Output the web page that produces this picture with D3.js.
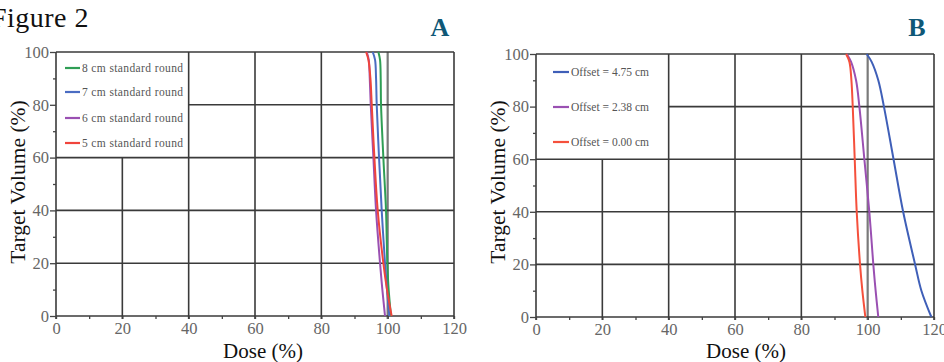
<!DOCTYPE html>
<html>
<head>
<meta charset="utf-8">
<script src="https://d3js.org/d3.v7.min.js"></script>
<style>
  body { margin: 0; background: #fff; }
  svg { display: block; }
</style>
</head>
<body>
<div id="chart"></div>
<script>
// Axis ticks
const doseTicks = [0, 20, 40, 60, 80, 100, 120];
const doseMinor = [10, 30, 50, 70, 90, 110];
const volumeTicks = [0, 20, 40, 60, 80, 100];
const volumeMinor = [10, 30, 50, 70, 90];

const volumeLevels = [100, 97, 90, 80, 60, 40, 20, 10, 0];

// Panel A: standard round applicators
const roundLabels = ['8 cm standard round', '7 cm standard round', '6 cm standard round', '5 cm standard round'];
const roundColors = ['#2f9e55', '#4a6cc2', '#9a50b2', '#f0443c'];
const round8Dose = [97.2, 97.7, 97.9, 98.0, 98.7, 99.5, 99.9, 100.3, 101.0];
const round7Dose = [95.5, 96.2, 96.5, 96.7, 97.4, 98.2, 99.2, 99.8, 100.5];
const round6Dose = [93.7, 94.3, 94.6, 94.9, 95.7, 96.5, 97.7, 98.4, 99.2];
const round5Dose = [93.5, 94.2, 94.8, 95.2, 96.0, 97.0, 98.7, 99.8, 101.2];

// Panel B: offsets
const offsetLabels = ['Offset = 4.75 cm', 'Offset = 2.38 cm', 'Offset = 0.00 cm'];
const offsetColors = ['#3f5fb8', '#9a50b2', '#f5503c'];
const offset475Dose = [99.7, 101.2, 103.2, 104.9, 107.8, 110.7, 114.3, 116.2, 119.2];
const offset238Dose = [93.7, 95.0, 96.5, 97.5, 99.0, 100.5, 101.7, 102.4, 103.2];
const offset000Dose = [93.5, 94.5, 95.1, 95.5, 96.1, 96.7, 97.7, 98.4, 99.3];

const width = 944, height = 362;
const serif = '"Liberation Serif", "DejaVu Serif", serif';
const gridColor = '#3a3a3a';
const tickColor = '#666';

const svg = d3.select('#chart').append('svg')
    .attr('width', width)
    .attr('height', height)
    .style('background', '#fff');

// Figure title (cut at the left edge like the original)
svg.append('text')
    .attr('x', 89).attr('y', 27)
    .attr('text-anchor', 'end')
    .attr('font-family', serif)
    .attr('font-size', 28)
    .attr('letter-spacing', 0.5)
    .attr('fill', '#111')
    .text('Figure 2');

function drawPanel(opts) {
    const x = d3.scaleLinear().domain([0, 120]).range([opts.x0, opts.x1]);
    const y = d3.scaleLinear().domain([0, 100]).range([opts.y0, opts.y1]);
    const g = svg.append('g');

    // Panel letter
    g.append('text')
        .attr('x', opts.letterX).attr('y', 36)
        .attr('text-anchor', 'middle')
        .attr('font-family', serif)
        .attr('font-weight', 'bold')
        .attr('font-size', 26)
        .attr('fill', '#0f5877')
        .text(opts.letter);

    // Vertical grid lines (legend box keeps the top-left cell clear)
    g.append('g').selectAll('line')
        .data(doseTicks)
        .join('line')
        .attr('x1', d => x(d)).attr('x2', d => x(d))
        .attr('y1', y(0) + 3)
        .attr('y2', d => (d > 0 && d < 40) ? y(60) : y(100))
        .attr('stroke', d => d === 100 ? '#7a7a7a' : gridColor)
        .attr('stroke-width', d => d === 100 ? 2.2 : 1.6);

    // Horizontal grid lines
    g.append('g').selectAll('line')
        .data(volumeTicks)
        .join('line')
        .attr('x1', d => (d > 60 && d < 100) ? x(40) : x(0))
        .attr('x2', x(120))
        .attr('y1', d => y(d)).attr('y2', d => y(d))
        .attr('stroke', gridColor)
        .attr('stroke-width', 1.6);

    // Axes
    const xAxis = g.append('g')
        .attr('transform', `translate(0,${y(0)})`)
        .call(d3.axisBottom(x).tickValues(doseTicks).tickSize(3).tickPadding(3));
    const xMinor = g.append('g')
        .attr('transform', `translate(0,${y(0)})`)
        .call(d3.axisBottom(x).tickValues(doseMinor).tickSize(3).tickFormat(''));
    const yAxis = g.append('g')
        .attr('transform', `translate(${x(0)},0)`)
        .call(d3.axisLeft(y).tickValues(volumeTicks).tickSize(6).tickPadding(1));
    const yMinor = g.append('g')
        .attr('transform', `translate(${x(0)},0)`)
        .call(d3.axisLeft(y).tickValues(volumeMinor).tickSize(3).tickFormat(''));

    [xAxis, xMinor, yAxis, yMinor].forEach(a => {
        a.select('.domain').remove();
        a.selectAll('line').attr('stroke', '#444').attr('stroke-width', 1.3);
        a.selectAll('text')
            .attr('font-family', serif)
            .attr('font-size', 16.5)
            .attr('fill', tickColor);
    });

    // Axis titles
    g.append('text')
        .attr('x', opts.doseLabelX).attr('y', 358)
        .attr('text-anchor', 'middle')
        .attr('font-family', serif)
        .attr('font-size', 21)
        .attr('fill', '#111')
        .text('Dose (%)');
    g.append('text')
        .attr('transform', `translate(${opts.volLabelX},182) rotate(-90)`)
        .attr('text-anchor', 'middle')
        .attr('font-family', serif)
        .attr('font-size', 21.5)
        .attr('fill', '#111')
        .text('Target Volume (%)');

    // Curves
    const line = d3.line()
        .x(d => x(d[0]))
        .y(d => y(d[1]))
        .curve(d3.curveCatmullRom.alpha(0.5));

    opts.series.forEach((doses, i) => {
        const pts = doses.map((d, j) => [d, volumeLevels[j]]);
        g.append('path')
            .datum(pts)
            .attr('d', line)
            .attr('fill', 'none')
            .attr('stroke', opts.colors[i])
            .attr('stroke-width', 2);
    });

    // Legend
    const lg = g.append('g');
    opts.labels.forEach((label, i) => {
        const ly = opts.legendY[i];
        lg.append('line')
            .attr('x1', opts.legendX).attr('x2', opts.legendX + opts.legendLine)
            .attr('y1', ly).attr('y2', ly)
            .attr('stroke', opts.colors[i])
            .attr('stroke-width', 2.2);
        lg.append('text')
            .attr('x', opts.legendX + opts.legendLine + 2)
            .attr('y', ly + 3.8)
            .attr('font-family', serif)
            .attr('font-size', 11.5)
            .attr('textLength', opts.legendTextLen)
            .attr('lengthAdjust', 'spacing')
            .attr('fill', '#555')
            .text(label);
    });
}

drawPanel({
    x0: 56, x1: 454, y0: 316, y1: 52,
    letter: 'A', letterX: 440,
    doseLabelX: 263, volLabelX: 25,
    series: [round8Dose, round7Dose, round6Dose, round5Dose],
    colors: roundColors, labels: roundLabels,
    legendX: 65, legendLine: 15, legendTextLen: 101,
    legendY: [68, 92, 118, 143]
});

drawPanel({
    x0: 536, x1: 934, y0: 317, y1: 54,
    letter: 'B', letterX: 917,
    doseLabelX: 746, volLabelX: 505,
    series: [offset475Dose, offset238Dose, offset000Dose],
    colors: offsetColors, labels: offsetLabels,
    legendX: 553, legendLine: 16, legendTextLen: 78,
    legendY: [72, 107, 142]
});
</script>
</body>
</html>
